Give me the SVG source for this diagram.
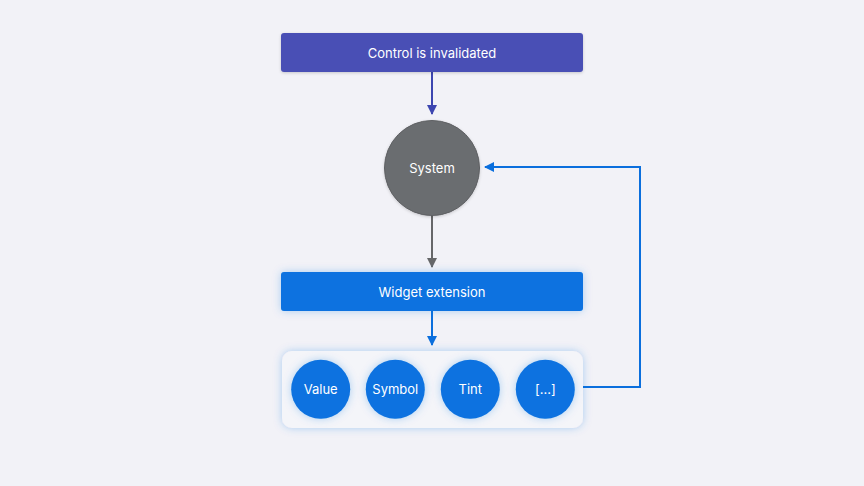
<svg xmlns="http://www.w3.org/2000/svg" width="864" height="486" viewBox="0 0 864 486">
<defs>
<filter id="sh" x="-20%" y="-40%" width="140%" height="180%">
<feDropShadow dx="0" dy="1" stdDeviation="1.5" flood-color="#000" flood-opacity="0.18"/>
</filter>
<filter id="glow" x="-20%" y="-40%" width="140%" height="180%">
<feDropShadow dx="0" dy="0" stdDeviation="4" flood-color="#1a73e0" flood-opacity="0.3"/>
</filter>
<marker id="ahIndigo" markerWidth="10" markerHeight="10" refX="9" refY="5" orient="auto" markerUnits="userSpaceOnUse"><path d="M0,0 L10,5 L0,10 Z" fill="#3d46b0"/></marker>
<marker id="ahGray" markerWidth="10" markerHeight="10" refX="9" refY="5" orient="auto" markerUnits="userSpaceOnUse"><path d="M0,0 L10,5 L0,10 Z" fill="#666769"/></marker>
<marker id="ahBlue" markerWidth="10" markerHeight="10" refX="9" refY="5" orient="auto" markerUnits="userSpaceOnUse"><path d="M0,0 L10,5 L0,10 Z" fill="#0b6fdd"/></marker>
<style>
text{font-family:"Inter","Liberation Sans",sans-serif;font-size:13px;fill:#fff;text-anchor:middle;dominant-baseline:central}
.c{fill:#0a72e0;filter:url(#glow)}
</style>
</defs>
<rect width="864" height="486" fill="#f2f2f7"/>
<g id="connectors" fill="none" stroke-width="2">
<line x1="432" y1="72" x2="432" y2="114" stroke="#3d46b0" marker-end="url(#ahIndigo)"/>
<line x1="432" y1="215" x2="432" y2="267" stroke="#666769" marker-end="url(#ahGray)"/>
<line x1="432" y1="311" x2="432" y2="345" stroke="#0b6fdd" marker-end="url(#ahBlue)"/>
<polyline points="583,387 640,387 640,167 485,167" stroke="#0b6fdd" marker-end="url(#ahBlue)"/>
</g>
<g id="control">
<rect x="281" y="33" width="302" height="39" rx="3" fill="#4a4fb5" filter="url(#sh)"/>
<text x="432" y="52.5">Control is invalidated</text>
</g>
<g id="system">
<circle cx="432" cy="168" r="47.5" fill="#6b6d70" stroke="#5e6063" stroke-width="1" filter="url(#sh)"/>
<text x="432" y="168">System</text>
</g>
<g id="widget">
<rect x="281" y="272" width="302" height="39" rx="3" fill="#0a72e0" filter="url(#glow)"/>
<text x="432" y="292">Widget extension</text>
</g>
<g id="container">
<rect x="282" y="351" width="301" height="77" rx="10" fill="#f4f5f9" filter="url(#glow)"/>
</g>
<g id="value"><circle class="c" cx="320.7" cy="389.3" r="29.5"/><text x="320.7" y="389.3">Value</text></g>
<g id="symbol"><circle class="c" cx="395.3" cy="389.3" r="29.5"/><text x="395.3" y="389.3">Symbol</text></g>
<g id="tint"><circle class="c" cx="470.3" cy="389.3" r="29.5"/><text x="470.3" y="389.3">Tint</text></g>
<g id="more"><circle class="c" cx="545.3" cy="389.3" r="29.5"/><text x="545.3" y="389.3">[...]</text></g>
</svg>
